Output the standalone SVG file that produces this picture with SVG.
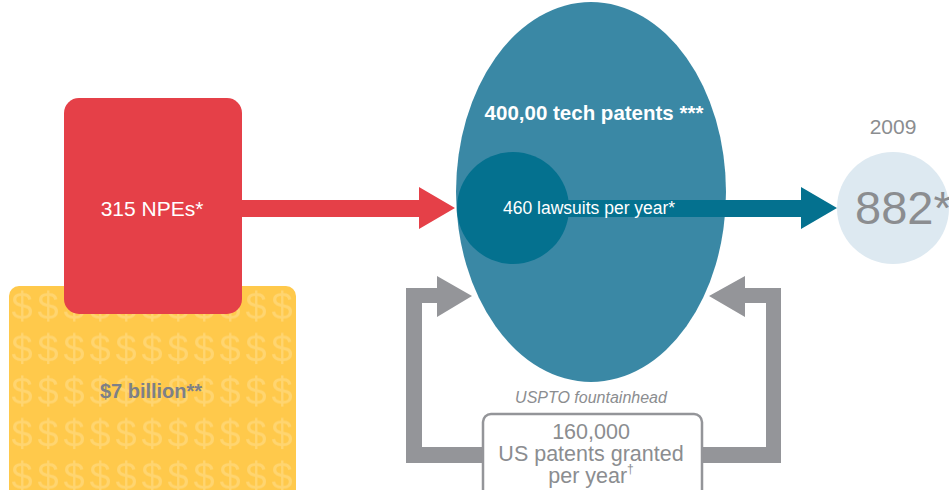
<svg xmlns="http://www.w3.org/2000/svg" width="949" height="490" viewBox="0 0 949 490">
<style>
text{font-family:"Liberation Sans",Arial,sans-serif}
.w{fill:#fff}
.g{fill:#8b8d90}
.arrow-g{fill:#949599}
</style>
<defs>
<pattern id="dollars" patternUnits="userSpaceOnUse" x="9" y="286" width="26" height="42.5">
<rect width="26" height="42.5" fill="#FFC94B"/>
<text x="13" y="34" text-anchor="middle" font-size="38" fill="#FFD570">$</text>
</pattern>
</defs>
<rect width="949" height="490" fill="#fff"/>

<g id="money">
<rect x="9" y="286" width="287" height="220" rx="10" fill="url(#dollars)"/>
<text x="151" y="398" text-anchor="middle" font-size="20" font-weight="bold" fill="#7d8088">$7 billion**</text>
</g>

<g id="npes">
<rect x="64" y="98" width="178" height="216" rx="15" fill="#E54048"/>
<text class="w" x="152" y="216" text-anchor="middle" font-size="21">315 NPEs*</text>
</g>

<g id="patents">
<ellipse cx="591" cy="192" rx="135" ry="190" fill="#3A88A5"/>
<text class="w" x="594" y="120" text-anchor="middle" font-size="20.5" font-weight="bold">400,00 tech patents ***</text>
</g>

<g id="connectors">
<path d="M242 200H419V187L455 208L419 229V217H242Z" fill="#E54048"/>
<path d="M472 296L437 276V288H406V463H483V447H422V303H437V317Z" class="arrow-g"/>
<path d="M709 296L745 276V288H781V463H703V447H766V303H745V317Z" class="arrow-g"/>
</g>

<g id="lawsuits">
<circle cx="513" cy="208" r="56" fill="#04718F"/>
<path d="M560 200H801V187L837 208L801 229V217H560Z" fill="#04718F"/>
<text class="w" x="503" y="214" font-size="17.5">460 lawsuits per year*</text>
</g>

<g id="y2009">
<text class="g" x="893" y="134" text-anchor="middle" font-size="21">2009</text>
<circle cx="893" cy="208" r="56" fill="#DDE9F1"/>
<text class="g" x="855" y="224" font-size="47">882*</text>
</g>

<g id="uspto">
<text class="g" x="591" y="403" text-anchor="middle" font-size="16" font-style="italic">USPTO fountainhead</text>
<rect x="483" y="414" width="219" height="90" rx="8" fill="#fff" stroke="#949599" stroke-width="2.5"/>
<text class="g" x="591" y="439" text-anchor="middle" font-size="21.5">160,000</text>
<text class="g" x="591" y="461" text-anchor="middle" font-size="21.5">US patents granted</text>
<text class="g" x="591" y="483" text-anchor="middle" font-size="21.5">per year<tspan font-size="12" dy="-10">†</tspan></text>
</g>
</svg>
